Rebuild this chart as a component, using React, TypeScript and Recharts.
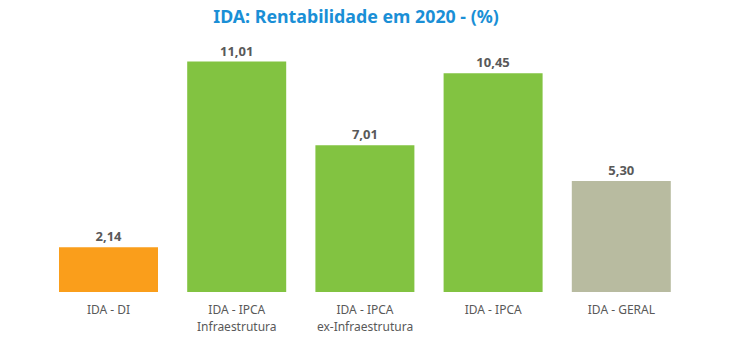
import React from "react";
import { BarChart, Bar, XAxis, YAxis, Cell, LabelList } from "recharts";

const categories = [
  "IDA - DI",
  "IDA - IPCA\nInfraestrutura",
  "IDA - IPCA\nex-Infraestrutura",
  "IDA - IPCA",
  "IDA - GERAL",
];
const values = [2.14, 11.01, 7.01, 10.45, 5.3];
const colors = ["#FA9E1B", "#82C341", "#82C341", "#82C341", "#B8BBA0"];
const title = "IDA: Rentabilidade em 2020 - (%)";

const data = categories.map((c, i) => ({ name: c, value: values[i] }));

const FONT = "'Noto Sans', 'Open Sans', sans-serif";

const Tick = (props: any) => {
  const { x, y, payload } = props;
  const lines = String(payload.value).split("\n");
  return (
    <g>
      {lines.map((l: string, i: number) => (
        <text
          key={i}
          x={x}
          y={y + 22 + i * 17}
          textAnchor="middle"
          fill="#595959"
          fontSize={12}
          fontFamily={FONT}
        >
          {l}
        </text>
      ))}
    </g>
  );
};

export default function App() {
  return (
    <div style={{ position: "absolute", left: 0, top: 0, width: 750, height: 355, background: "#fff" }}>
      <BarChart
        width={750}
        height={355}
        data={data}
        margin={{ top: 61.6, right: 64.5, bottom: 23, left: 44.5 }}
        barCategoryGap={14.5}
      >
        <text
          x={356}
          y={23}
          textAnchor="middle"
          fill="#1A8FD6"
          fontSize={17.8}
          fontWeight="bold"
          fontFamily={FONT}
        >
          {title}
        </text>
        <XAxis
          dataKey="name"
          axisLine={false}
          tickLine={false}
          tickSize={0}
          tickMargin={0}
          height={40}
          interval={0}
          tick={<Tick />}
        />
        <YAxis hide domain={[0, 11.01]} />
        <Bar dataKey="value" isAnimationActive={false}>
          {data.map((d, i) => (
            <Cell key={i} fill={colors[i]} />
          ))}
          <LabelList
            dataKey="value"
            position="top"
            offset={6}
            formatter={(v: any) => Number(v).toFixed(2).replace(".", ",")}
            fill="#595959"
            fontSize={13}
            fontWeight="bold"
            fontFamily={FONT}
          />
        </Bar>
      </BarChart>
    </div>
  );
}
